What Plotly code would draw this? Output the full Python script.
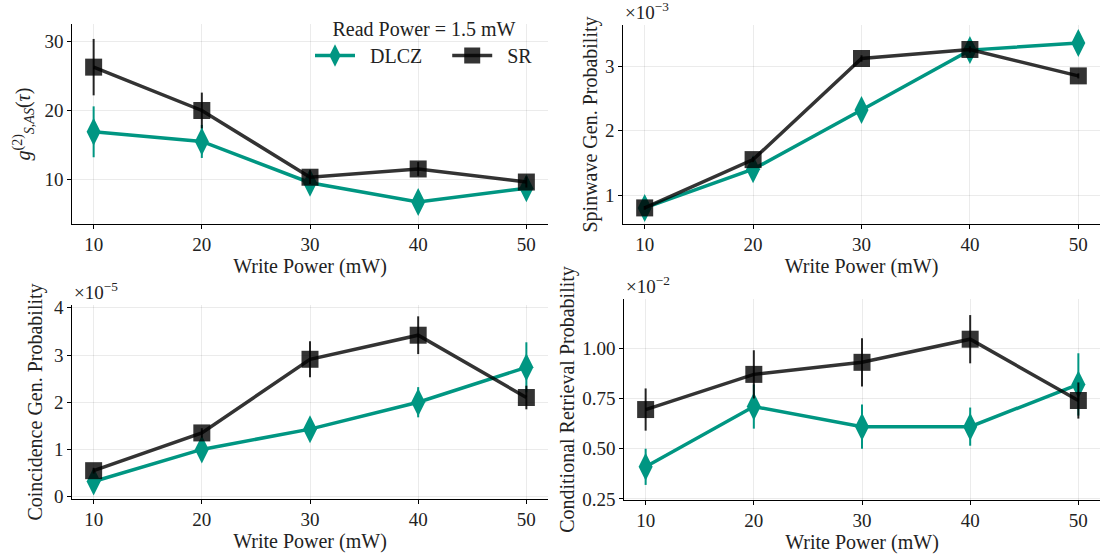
import plotly.graph_objects as go

write_power = [10, 20, 30, 40, 50]

# g2 cross-correlation
g2_dlcz = [16.9, 15.5, 9.5, 6.7, 8.7]
g2_dlcz_err = [3.7, 2.4, 1.0, 0.6, 0.8]
g2_sr = [26.3, 20.0, 10.3, 11.5, 9.6]
g2_sr_err = [4.1, 2.6, 1.0, 1.0, 0.8]

# spinwave generation probability (x1e-3)
sw_dlcz = [0.80, 1.40, 2.32, 3.25, 3.36]
sw_dlcz_err = [0.04, 0.04, 0.05, 0.06, 0.05]
sw_sr = [0.80, 1.55, 3.12, 3.26, 2.85]
sw_sr_err = [0.03, 0.04, 0.05, 0.05, 0.04]

# coincidence generation probability (x1e-5)
co_dlcz = [0.32, 1.00, 1.43, 2.00, 2.74]
co_dlcz_err = [0.10, 0.10, 0.25, 0.32, 0.53]
co_sr = [0.55, 1.35, 2.91, 3.42, 2.10]
co_sr_err = [0.06, 0.10, 0.38, 0.40, 0.25]

# conditional retrieval probability (x1e-2)
cr_dlcz = [0.41, 0.71, 0.61, 0.61, 0.82]
cr_dlcz_err = [0.09, 0.11, 0.11, 0.095, 0.155]
cr_sr = [0.695, 0.87, 0.93, 1.045, 0.74]
cr_sr_err = [0.105, 0.12, 0.12, 0.12, 0.09]

series_names = ["DLCZ", "SR"]
legend_title = "Read Power = 1.5 mW"

TEAL = "#009682"
DARK = "rgba(0,0,0,0.8)"
FONT = "'Liberation Serif', 'Times New Roman', serif"
TXT = "#222"
NB = "\u00a0"

W, H = 1105, 554
def px_x(a, b):
    return [a / W, b / W]
def px_y(top, bottom):
    return [1 - bottom / H, 1 - top / H]

fig = go.Figure()

panels = [
    (g2_dlcz, g2_dlcz_err, g2_sr, g2_sr_err),
    (sw_dlcz, sw_dlcz_err, sw_sr, sw_sr_err),
    (co_dlcz, co_dlcz_err, co_sr, co_sr_err),
    (cr_dlcz, cr_dlcz_err, cr_sr, cr_sr_err),
]

for i, (d, de, s, se) in enumerate(panels):
    xa = "x" if i == 0 else f"x{i+1}"
    ya = "y" if i == 0 else f"y{i+1}"
    fig.add_trace(go.Scatter(
        x=write_power, y=d, xaxis=xa, yaxis=ya, mode="lines+markers",
        name=NB * 2 + series_names[0] + NB * 4, showlegend=(i == 0), legendgroup="DLCZ",
        line=dict(color=TEAL, width=3.5),
        marker=dict(symbol="diamond-tall", size=20, color=TEAL),
        error_y=dict(type="data", array=de, color=TEAL, thickness=2, width=0),
    ))
    fig.add_trace(go.Scatter(
        x=write_power, y=s, xaxis=xa, yaxis=ya, mode="lines+markers",
        name=NB * 2 + series_names[1], showlegend=(i == 0), legendgroup="SR",
        line=dict(color=DARK, width=3.5),
        marker=dict(symbol="square", size=17, color=DARK),
        error_y=dict(type="data", array=se, color="rgba(0,0,0,0.85)", thickness=2, width=0),
    ))

xdoms = [px_x(72, 548), px_x(623, 1100), px_x(72, 548), px_x(624, 1100)]
ydoms = [px_y(24, 224), px_y(25, 224), px_y(305, 499), px_y(299, 500)]
yranges = [[3.5, 32.57], [0.55, 3.64], [-0.05, 4.06], [0.245, 1.245]]
ytickvals = [[10, 20, 30], [1, 2, 3], [0, 1, 2, 3, 4], [0.25, 0.5, 0.75, 1.0]]
yticktext = [["10", "20", "30"], ["1", "2", "3"], ["0", "1", "2", "3", "4"],
             ["0.25", "0.50", "0.75", "1.00"]]
ytitles = ["<i>g</i><sup>(2)</sup><sub><i>S,AS</i></sub>(<i>τ</i>)",
           "Spinwave Gen. Probability",
           "Coincidence Gen. Probability",
           "Conditional Retrieval Probability"]
standoffs = [8, 2, 6, 2]
exps = [None, "−3", "−5", "−2"]

axis_common = dict(
    showline=True, linecolor="black", linewidth=1.2,
    ticks="outside", ticklen=3.5, tickwidth=1.2, tickcolor="black",
    showgrid=True, gridcolor="rgba(0,0,0,0.08)", gridwidth=1,
    zeroline=False, tickfont=dict(family=FONT, size=19, color=TXT),
    automargin=False,
)

for i in range(4):
    k = "" if i == 0 else str(i + 1)
    fig.layout["xaxis" + k] = dict(
        axis_common, domain=xdoms[i], anchor="y" + k, range=[8, 52],
        tickvals=write_power,
        title=dict(text="Write Power (mW)", font=dict(family=FONT, size=20, color=TXT), standoff=2),
    )
    fig.layout["yaxis" + k] = dict(
        axis_common, domain=ydoms[i], anchor="x" + k, range=yranges[i],
        tickvals=ytickvals[i], ticktext=yticktext[i],
        title=dict(text=ytitles[i], font=dict(family=FONT, size=20, color=TXT), standoff=standoffs[i]),
    )
    if exps[i]:
        fig.add_annotation(
            x=xdoms[i][0], y=ydoms[i][1], xref="paper", yref="paper",
            xanchor="left", yanchor="bottom", showarrow=False,
            text=f"×10<sup>{exps[i]}</sup>", font=dict(family=FONT, size=19, color=TXT),
        )

fig.update_layout(
    width=W, height=H, margin=dict(l=0, r=0, t=0, b=0, autoexpand=False),
    plot_bgcolor="white", paper_bgcolor="white",
    legend=dict(
        title=dict(text=legend_title, side="top center",
                   font=dict(family=FONT, size=20, color=TXT)),
        orientation="h", x=310 / W, xanchor="left", y=1 - 10 / H, yanchor="top",
        font=dict(family=FONT, size=20, color=TXT), bgcolor="rgba(0,0,0,0)",
        itemwidth=40,
    ),
)

fig.write_html("out.html")
